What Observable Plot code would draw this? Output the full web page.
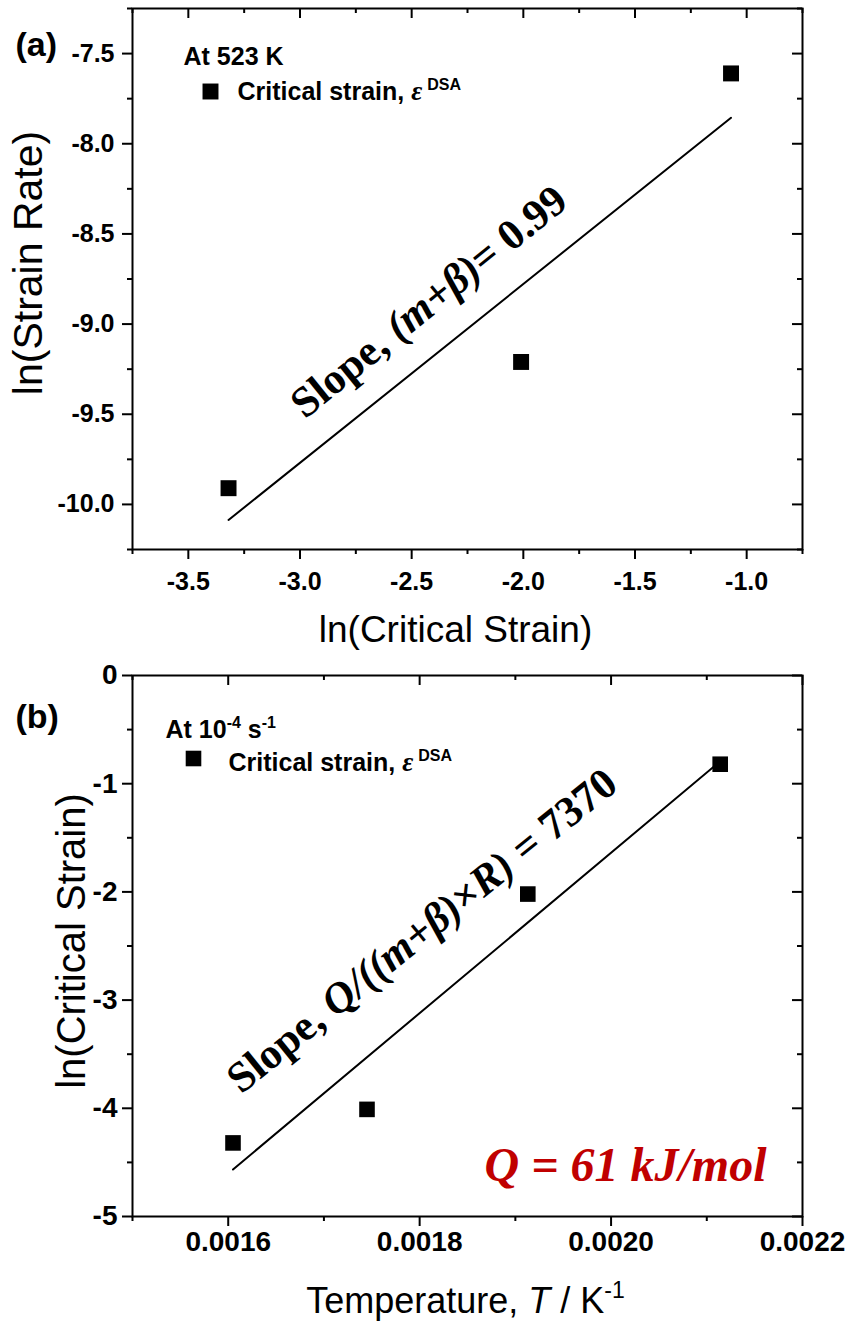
<!DOCTYPE html>
<html>
<head>
<meta charset="utf-8">
<script src="https://cdn.jsdelivr.net/npm/d3@7"></script>
<script src="https://cdn.jsdelivr.net/npm/@observablehq/plot@0.6"></script>
<style>
  html, body { margin: 0; padding: 0; background: #fff; }
  #chart svg { display: block; }
</style>
</head>
<body>
<div id="chart"></div>
<script>
// ---------- Panel (a) data ----------
const aLnCriticalStrain = [-3.32, -2.01, -1.07];
const aLnStrainRate = [-9.91, -9.21, -7.61];
const aXMajor = [-3.5, -3.0, -2.5, -2.0, -1.5, -1.0];
const aXMinor = [-3.75, -3.25, -2.75, -2.25, -1.75, -1.25, -0.75];
const aYMajor = [-10.0, -9.5, -9.0, -8.5, -8.0, -7.5];
const aYMinor = [-10.25, -9.75, -9.25, -8.75, -8.25, -7.75, -7.25];
const aXDomain = [-3.75, -0.75];
const aYDomain = [-10.25, -7.25];

// ---------- Panel (b) data ----------
const bInvTemperature = [0.001605, 0.001745, 0.001913, 0.002114];
const bLnCriticalStrain = [-4.32, -4.01, -2.02, -0.82];
const bXMajor = [0.0016, 0.0018, 0.0020, 0.0022];
const bXMinor = [0.0015, 0.0017, 0.0019, 0.0021];
const bYMajor = [0, -1, -2, -3, -4, -5];
const bYMinor = [-0.5, -1.5, -2.5, -3.5, -4.5];
const bXDomain = [0.0015, 0.0022];
const bYDomain = [-5, 0];

// ---------- Texts ----------
const aPanel = "(a)", bPanel = "(b)";
const aCondition = "At 523 K";
const bCondition = "At 10-4 s-1";
const legendLabel = "Critical strain, εDSA";
const aXTitle = "ln(Critical Strain)", aYTitle = "ln(Strain Rate)";
const bXTitle = "Temperature, T / K-1", bYTitle = "ln(Critical Strain)";
const aSlope = "Slope, (m+β)= 0.99";
const bSlope = "Slope, Q/((m+β)×R) = 7370";
const bEnergy = "Q = 61 kJ/mol";

const SANS = "Liberation Sans, Arial, Helvetica, sans-serif";
const SERIF = "Liberation Serif, Times New Roman, serif";
const W = 849;
const FW = 670, FH = 541; // frame size

function tableOf(xs, ys) { return xs.map((x, i) => ({x, y: ys[i]})); }

function frameMarks(xMajor, xMinor, yMajor, yMinor, xFmt, yFmt, xPad, yPad) {
  const tickText = {fontWeight: "bold", fontFamily: SANS};
  return [
    Plot.frame({stroke: "#000", strokeWidth: 2}),
    Plot.axisX(xMajor, {anchor: "bottom", tickSize: 10, tickPadding: xPad, tickFormat: xFmt, strokeWidth: 2, label: null, ...tickText}),
    Plot.axisX(xMinor, {anchor: "bottom", tickSize: 5, tickFormat: () => "", strokeWidth: 2, label: null}),
    Plot.axisY(yMajor, {anchor: "left", tickSize: 10, tickPadding: yPad, tickFormat: yFmt, strokeWidth: 2, label: null, ...tickText}),
    Plot.axisY(yMinor, {anchor: "left", tickSize: 5, tickFormat: () => "", strokeWidth: 2, label: null}),
    Plot.tickX(xMajor, {x: d => d, insetBottom: FH - 10, strokeWidth: 2}),
    Plot.tickX(xMinor, {x: d => d, insetBottom: FH - 5, strokeWidth: 2}),
    Plot.tickY(yMajor, {y: d => d, insetLeft: FW - 10, strokeWidth: 2}),
    Plot.tickY(yMinor, {y: d => d, insetLeft: FW - 5, strokeWidth: 2})
  ];
}

function richText(svg, content, parts) {
  d3.select(svg).selectAll("text")
    .filter(function () { return this.textContent === content; })
    .each(function () {
      const el = d3.select(this);
      el.text(null);
      let shift = 0;
      for (const p of parts) {
        const ts = el.append("tspan").text(p.t);
        if (p.family) ts.attr("font-family", p.family);
        if (p.style) ts.attr("font-style", p.style);
        if (p.weight) ts.attr("font-weight", p.weight);
        if (p.size) ts.attr("font-size", p.size);
        const want = p.rise || 0;
        const dy = shift - want;
        if (dy) ts.attr("dy", dy);
        if (p.dx) ts.attr("dx", p.dx);
        shift = want;
      }
    });
}

// ---------- Panel (a) ----------
const aData = tableOf(aLnCriticalStrain, aLnStrainRate);
const plotA = Plot.plot({
  width: W, height: 660,
  marginLeft: 132, marginRight: 47, marginTop: 8, marginBottom: 111,
  x: {domain: aXDomain},
  y: {domain: aYDomain},
  style: {fontFamily: SANS, fontSize: "25px", color: "#000", background: "#fff", overflow: "visible"},
  marks: [
    ...frameMarks(aXMajor, aXMinor, aYMajor, aYMinor, d => d.toFixed(1), d => d.toFixed(1), 13, 8),
    Plot.linearRegressionY(aData, {x: "x", y: "y", ci: 0, stroke: "#000", strokeWidth: 2}),
    Plot.dot(aData, {x: "x", y: "y", symbol: "square", r: 9, fill: "#000"}),
    Plot.text([aPanel], {frameAnchor: "top-left", dx: -117, dy: 47, textAnchor: "start", lineAnchor: "bottom", fontSize: 34, fontWeight: "bold"}),
    Plot.text([aCondition], {frameAnchor: "top-left", dx: 51, dy: 56, textAnchor: "start", lineAnchor: "bottom", fontSize: 25, fontWeight: "bold"}),
    Plot.dot([0], {frameAnchor: "top-left", dx: 78, dy: 83, symbol: "square", r: 9, fill: "#000"}),
    Plot.text([legendLabel], {frameAnchor: "top-left", dx: 105, dy: 91, textAnchor: "start", lineAnchor: "bottom", fontSize: 25, fontWeight: "bold"}),
    Plot.text([aSlope], {frameAnchor: "top-left", dx: 305, dy: 304, textAnchor: "middle", lineAnchor: "bottom", rotate: -39, fontSize: 43, fontWeight: "bold", fontFamily: SERIF}),
    Plot.text([aXTitle], {frameAnchor: "bottom", dx: -12, dy: 92, textAnchor: "middle", lineAnchor: "bottom", fontSize: 37}),
    Plot.text([aYTitle], {frameAnchor: "left", dx: -104, dy: -16, textAnchor: "middle", lineAnchor: "middle", rotate: -90, fontSize: 41})
  ]
});

// ---------- Panel (b) ----------
const bData = tableOf(bInvTemperature, bLnCriticalStrain);
const plotB = Plot.plot({
  width: W, height: 665,
  marginLeft: 132, marginRight: 47, marginTop: 15, marginBottom: 109,
  x: {domain: bXDomain},
  y: {domain: bYDomain},
  style: {fontFamily: SANS, fontSize: "28px", color: "#000", background: "#fff", overflow: "visible"},
  marks: [
    ...frameMarks(bXMajor, bXMinor, bYMajor, bYMinor, d => d.toFixed(4), d => String(d), 5, 5),
    Plot.linearRegressionY(bData, {x: "x", y: "y", ci: 0, stroke: "#000", strokeWidth: 2}),
    Plot.dot(bData, {x: "x", y: "y", symbol: "square", r: 8.8, fill: "#000"}),
    Plot.text([bPanel], {frameAnchor: "top-left", dx: -117, dy: 52, textAnchor: "start", lineAnchor: "bottom", fontSize: 34, fontWeight: "bold"}),
    Plot.text([bCondition], {frameAnchor: "top-left", dx: 33, dy: 62, textAnchor: "start", lineAnchor: "bottom", fontSize: 25, fontWeight: "bold"}),
    Plot.dot([0], {frameAnchor: "top-left", dx: 61, dy: 83, symbol: "square", r: 8.8, fill: "#000"}),
    Plot.text([legendLabel], {frameAnchor: "top-left", dx: 96, dy: 95, textAnchor: "start", lineAnchor: "bottom", fontSize: 25, fontWeight: "bold"}),
    Plot.text([bSlope], {frameAnchor: "top-left", dx: 298, dy: 266, textAnchor: "middle", lineAnchor: "bottom", rotate: -39, fontSize: 43, fontWeight: "bold", fontFamily: SERIF}),
    Plot.text([bEnergy], {frameAnchor: "bottom-right", dx: -36, dy: -36, textAnchor: "end", lineAnchor: "bottom", fontSize: 48, fontWeight: "bold", fontStyle: "italic", fontFamily: SERIF, fill: "#c00000"}),
    Plot.text([bXTitle], {frameAnchor: "bottom", dx: -2, dy: 96, textAnchor: "middle", lineAnchor: "bottom", fontSize: 36}),
    Plot.text([bYTitle], {frameAnchor: "left", dx: -60, dy: -5, textAnchor: "middle", lineAnchor: "middle", rotate: -90, fontSize: 40})
  ]
});

// ---------- Rich text (italics, superscripts) ----------
const legendParts = [
  {t: "Critical strain, "},
  {t: "ε", family: SERIF, style: "italic", weight: "bold", size: 27},
  {t: "DSA", size: 16, rise: 10, dx: 5}
];
richText(plotA, legendLabel, legendParts);
richText(plotB, legendLabel, legendParts);
richText(plotA, aSlope, [
  {t: "Slope, "},
  {t: "(m+β)", style: "italic"},
  {t: "= 0.99"}
]);
richText(plotB, bSlope, [
  {t: "Slope, "},
  {t: "Q/((m+β)", style: "italic"},
  {t: "×", style: "normal"},
  {t: "R)", style: "italic"},
  {t: " = 7370"}
]);
richText(plotB, bCondition, [
  {t: "At 10"},
  {t: "-4", size: 16, rise: 10},
  {t: " s"},
  {t: "-1", size: 16, rise: 10}
]);
richText(plotB, bXTitle, [
  {t: "Temperature, "},
  {t: "T", style: "italic"},
  {t: " / K"},
  {t: "-1", size: 23, rise: 15}
]);

const chart = document.getElementById("chart");
chart.appendChild(plotA);
chart.appendChild(plotB);
</script>
</body>
</html>
